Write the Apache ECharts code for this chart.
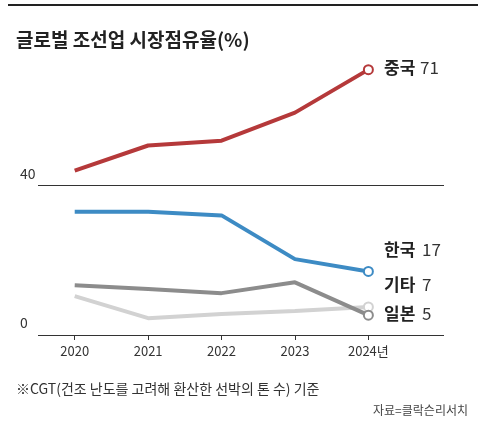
<!DOCTYPE html>
<html><head><meta charset="utf-8">
<script src="https://cdn.jsdelivr.net/npm/echarts@6/dist/echarts.min.js"></script>
<style>html,body{margin:0;padding:0;background:#fff}#chart{width:480px;height:442px}</style>
</head><body><div id="chart"></div>
<script>
const years = [2020, 2021, 2022, 2023, 2024];
const china = [44, 50.7, 52, 59.5, 71];
const korea = [33, 33, 32, 20.3, 17];
const japan = [13.3, 12.3, 11.2, 14.1, 5.3];
const others = [10.4, 4.5, 5.6, 6.4, 7.5];

function pairs(arr) {
    return arr.map(function (v, i) { return [years[i], v]; });
}

let myChart = echarts.init(document.getElementById('chart'));
const font = "'Noto Sans CJK KR', sans-serif";

function line(name, data, color, z) {
    return {
        name: name, type: 'line', z: z,
        data: pairs(data).map(function (p, i) {
            return i === data.length - 1
                ? { value: p, symbol: 'circle', symbolSize: 9, itemStyle: { color: '#fff', borderColor: color, borderWidth: 2 } }
                : { value: p, symbol: 'none' };
        }),
        lineStyle: { color: color, width: 4 },
        itemStyle: { color: color },
        silent: true
    };
}

let option = {
    animation: false,
    textStyle: { fontFamily: font },
    graphic: [
        { type: 'rect', shape: { x: 8, y: 4, width: 470, height: 2 }, style: { fill: '#222' } },
        { type: 'text', left: 16, top: 30, style: { text: '글로벌 조선업 시장점유율(%)', font: 'bold 19px ' + font, fill: '#222' } },
        { type: 'text', left: 384, top: 59, style: { text: '중국', font: 'bold 17px ' + font, fill: '#222' } },
        { type: 'text', left: 420, top: 59, style: { text: '71', font: '17px ' + font, fill: '#333' } },
        { type: 'text', left: 384, top: 241, style: { text: '한국', font: 'bold 17px ' + font, fill: '#222' } },
        { type: 'text', left: 422, top: 241, style: { text: '17', font: '17px ' + font, fill: '#333' } },
        { type: 'text', left: 384, top: 276, style: { text: '기타', font: 'bold 17px ' + font, fill: '#222' } },
        { type: 'text', left: 422, top: 276, style: { text: '7', font: '17px ' + font, fill: '#333' } },
        { type: 'text', left: 384, top: 305, style: { text: '일본', font: 'bold 17px ' + font, fill: '#222' } },
        { type: 'text', left: 422, top: 305, style: { text: '5', font: '17px ' + font, fill: '#333' } },
        { type: 'text', left: 16, top: 382, style: { text: '※CGT(건조 난도를 고려해 환산한 선박의 톤 수) 기준', font: '14px ' + font, fill: '#333' } },
        { type: 'text', right: 12, top: 404, style: { text: '자료=클락슨리서치', font: '12px ' + font, fill: '#444' } }
    ],
    grid: { left: 38, right: 36, top: 36, bottom: 107 },
    xAxis: {
        type: 'value', min: 2019.5, max: 2025.03,
        axisLine: { show: false },
        splitLine: { show: false },
        axisTick: { show: true, customValues: years, length: 5, lineStyle: { color: '#333' } },
        axisLabel: {
            customValues: years, color: '#333', fontSize: 13, margin: 10,
            formatter: function (v) { return v === 2024 ? '2024년' : String(v); }
        }
    },
    yAxis: {
        type: 'value', min: 0, max: 80,
        axisLine: { show: false }, axisTick: { show: false },
        axisLabel: { show: false }, splitLine: { show: false }
    },
    series: [
        line('기타', others, '#d2d2d2', 2),
        line('일본', japan, '#8c8c8c', 3),
        line('한국', korea, '#3d8bc4', 4),
        line('중국', china, '#b5393a', 5),
        {
            type: 'line', data: [], silent: true,
            markLine: {
                silent: true, symbol: 'none',
                lineStyle: { color: '#333', width: 1, type: 'solid' },
                label: { position: 'insideStartTop', color: '#333', fontSize: 14, distance: [-18, 5], formatter: '{c}' },
                data: [{ yAxis: 40 }, { yAxis: 0 }]
            }
        }
    ]
};

option && myChart.setOption(option);
</script></body></html>
